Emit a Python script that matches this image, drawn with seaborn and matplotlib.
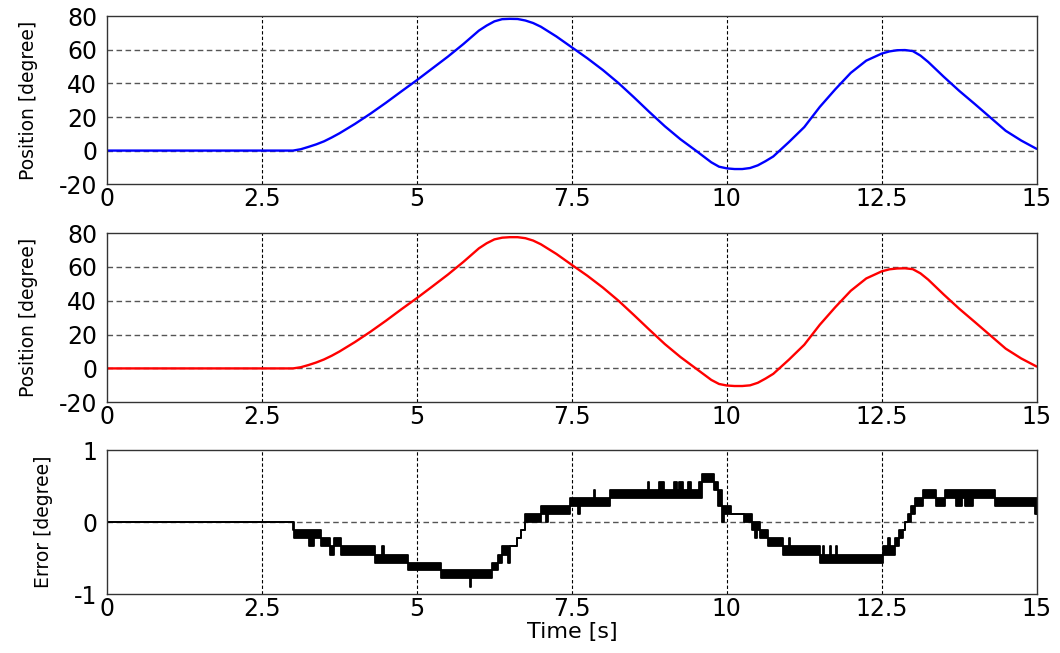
import numpy as np
import pandas as pd
import matplotlib as mpl
import matplotlib.pyplot as plt
import seaborn as sns

# DATA
time_s = [0.0, 3.0, 3.125, 3.25, 3.375, 3.5, 3.625, 3.75, 4.0, 4.25, 4.5, 4.75, 5.0,
          5.25, 5.5, 5.75, 6.0, 6.125, 6.25, 6.375, 6.5, 6.625, 6.75, 6.875, 7.0,
          7.25, 7.5, 7.75, 8.0, 8.25, 8.5, 8.75, 9.0, 9.25, 9.5, 9.75, 9.875,
          10.0, 10.125, 10.25, 10.375, 10.5, 10.625, 10.75, 11.0, 11.25, 11.5,
          11.75, 12.0, 12.25, 12.5, 12.625, 12.75, 12.875, 13.0, 13.125, 13.25,
          13.5, 13.75, 14.0, 14.25, 14.5, 14.75, 15.0]

pos_blue = [0.0, 0.0, 0.8, 2.2, 3.7, 5.5, 7.8, 10.3, 15.9, 22.0, 28.5, 35.3, 42.0,
            49.0, 56.0, 63.5, 71.5, 74.5, 77.0, 78.3, 78.5, 78.4, 77.5, 76.0, 73.8,
            68.0, 61.5, 55.0, 48.0, 40.3, 31.8, 23.0, 14.5, 6.8, 0.0, -7.0, -9.6,
            -10.6, -11.0, -11.0, -10.4, -8.8, -6.3, -3.5, 5.0, 14.0, 26.0,
            36.5, 46.3, 53.6, 57.8, 59.1, 59.8, 59.9, 59.3, 56.6, 52.8,
            44.0, 35.6, 27.8, 19.8, 11.8, 6.0, 1.0]

pos_red = [0.0, 0.0, 0.7, 2.0, 3.5, 5.3, 7.5, 10.0, 15.6, 21.7, 28.2, 35.0, 41.6,
           48.5, 55.5, 63.0, 71.0, 74.0, 76.3, 77.3, 77.6, 77.6, 77.0, 75.6, 73.4,
           67.7, 61.2, 54.8, 47.8, 40.1, 31.6, 22.9, 14.4, 6.8, 0.0, -6.8, -9.2,
           -10.1, -10.4, -10.4, -10.0, -8.5, -6.0, -3.2, 5.1, 14.0, 25.8,
           36.2, 45.9, 53.2, 57.4, 58.6, 59.1, 59.2, 58.7, 56.2, 52.5,
           43.7, 35.3, 27.5, 19.6, 11.7, 5.9, 1.1]

# error trace: start time of each segment with the low / high level it dithers between
err_t = [0.00, 3.00, 3.02, 3.26, 3.34, 3.46, 3.60, 3.66, 3.78, 4.33, 4.43, 4.47,
         4.86, 5.39, 5.85, 5.87, 6.21, 6.31, 6.38, 6.47, 6.50, 6.62, 6.68, 6.74,
         7.00, 7.08, 7.12, 7.47, 7.60, 7.63, 7.85, 7.88, 8.11, 8.73, 8.75, 8.90,
         8.98, 9.15, 9.20, 9.23, 9.30, 9.37, 9.42, 9.55, 9.60, 9.79, 9.86, 9.92,
         9.95, 10.07, 10.27, 10.40, 10.45, 10.48, 10.53, 10.66, 10.91, 11.00, 11.02,
         11.50, 11.55, 11.57, 11.66, 11.68, 11.76, 11.78, 12.52, 12.60, 12.63,
         12.72, 12.78, 12.84, 12.88, 12.92, 12.97, 13.03, 13.17, 13.38, 13.52,
         13.70, 13.80, 13.85, 13.97, 14.32, 14.97, 15.00]
err_lo = [0.00, -0.11, -0.22, -0.33, -0.22, -0.33, -0.45, -0.33, -0.45, -0.56, -0.56, -0.56,
          -0.67, -0.78, -0.90, -0.78, -0.67, -0.56, -0.45, -0.56, -0.33, -0.22, -0.11, 0.00,
          0.11, 0.00, 0.11, 0.22, 0.11, 0.22, 0.22, 0.22, 0.33, 0.33, 0.33, 0.33,
          0.33, 0.33, 0.33, 0.33, 0.33, 0.33, 0.33, 0.33, 0.56, 0.45, 0.22, 0.00,
          0.11, 0.11, 0.00, -0.11, -0.22, -0.11, -0.22, -0.33, -0.45, -0.45, -0.45,
          -0.56, -0.56, -0.56, -0.56, -0.56, -0.56, -0.56, -0.45, -0.45, -0.45,
          -0.33, -0.22, -0.11, 0.00, 0.00, 0.11, 0.22, 0.33, 0.22, 0.33,
          0.22, 0.33, 0.22, 0.33, 0.22, 0.11, 0.11]
err_hi = [0.00, 0.00, -0.11, -0.11, -0.11, -0.22, -0.33, -0.22, -0.33, -0.45, -0.33, -0.45,
          -0.56, -0.67, -0.67, -0.67, -0.56, -0.45, -0.33, -0.33, -0.33, -0.22, -0.11, 0.11,
          0.22, 0.22, 0.22, 0.33, 0.33, 0.33, 0.45, 0.33, 0.45, 0.56, 0.45, 0.56,
          0.45, 0.56, 0.45, 0.56, 0.45, 0.56, 0.45, 0.56, 0.67, 0.56, 0.45, 0.22,
          0.22, 0.11, 0.11, 0.00, 0.00, 0.00, -0.11, -0.22, -0.33, -0.22, -0.33,
          -0.45, -0.33, -0.45, -0.33, -0.45, -0.33, -0.45, -0.33, -0.22, -0.33,
          -0.22, -0.11, -0.11, 0.00, 0.11, 0.22, 0.33, 0.45, 0.33, 0.45,
          0.45, 0.45, 0.45, 0.45, 0.33, 0.33, 0.11]

x_ticks = [0, 2.5, 5, 7.5, 10, 12.5, 15]
x_labels = ["0", "2.5", "5", "7.5", "10", "12.5", "15"]
pos_ticks = [-20, 0, 20, 40, 60, 80]
err_ticks = [-1, 0, 1]

sns.set_style("white")
plt.rcParams['font.family'] = ['DejaVu Sans']
plt.rcParams['text.color'] = 'black'
plt.rcParams['axes.labelcolor'] = 'black'
plt.rcParams['xtick.color'] = 'black'
plt.rcParams['ytick.color'] = 'black'

fig = plt.figure(figsize=(10.6, 6.53), dpi=100)
ax1 = fig.add_axes([0.101, 0.718, 0.877, 0.257])
ax2 = fig.add_axes([0.101, 0.384, 0.877, 0.259])
ax3 = fig.add_axes([0.101, 0.090, 0.877, 0.2205])

sns.lineplot(x=time_s, y=pos_blue, color="#0000ff", lw=1.7, ax=ax1)
sns.lineplot(x=time_s, y=pos_red, color="#ff0000", lw=1.7, ax=ax2)

ax3.fill_between(err_t, err_lo, err_hi, step="post", color="black", lw=0)
sns.lineplot(x=err_t, y=err_lo, color="black", lw=1.3, drawstyle="steps-post", ax=ax3)
sns.lineplot(x=err_t, y=err_hi, color="black", lw=1.3, drawstyle="steps-post", ax=ax3)

for ax, yt in [(ax1, pos_ticks), (ax2, pos_ticks), (ax3, err_ticks)]:
    ax.set_xlim(0, 15)
    ax.set_ylim(yt[0], yt[-1])
    ax.set_xticks(x_ticks)
    ax.set_xticklabels(x_labels)
    ax.set_yticks(yt)
    ax.set_yticklabels([str(v) for v in yt])
    ax.tick_params(axis="x", length=0, pad=2, labelsize=17, colors="black")
    ax.tick_params(axis="y", length=0, pad=7, labelsize=17, colors="black")
    for xv in x_ticks[1:-1]:
        ax.axvline(xv, color="black", lw=0.8, ls=(0, (3, 2)), zorder=0)
    for yv in yt[1:-1]:
        ax.axhline(yv, color="#555555", lw=1.0, ls=(0, (4, 2.5)), zorder=0)
    for s in ax.spines.values():
        s.set_color("#333333")
        s.set_linewidth(1.0)
    ax.set_xlabel("")

ax1.set_ylabel("Position [degree]", fontsize=13.5)
ax2.set_ylabel("Position [degree]", fontsize=13.5)
ax3.set_ylabel("Error [degree]", fontsize=13.5)
ax1.yaxis.set_label_coords(-0.074, 0.5)
ax2.yaxis.set_label_coords(-0.074, 0.5)
ax3.yaxis.set_label_coords(-0.058, 0.5)
ax3.set_xlabel("Time [s]", fontsize=16, labelpad=1)

plt.savefig("out.png", dpi=100)
plt.close()
